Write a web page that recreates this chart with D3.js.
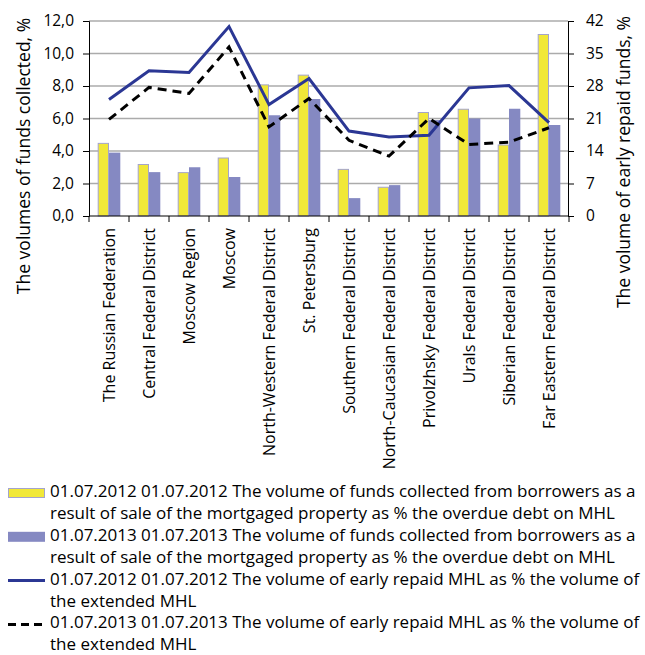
<!DOCTYPE html>
<html>
<head>
<meta charset="utf-8">
<script src="https://cdn.jsdelivr.net/npm/d3@7/dist/d3.min.js"></script>
<style>
  html, body { margin: 0; padding: 0; background: #fff; }
  svg { display: block; font-family: "Open Sans", sans-serif; }
</style>
</head>
<body>
<svg id="chart" width="645" height="655"></svg>
<script>
const categories = [
  "The Russian Federation", "Central Federal District", "Moscow Region", "Moscow",
  "North-Western Federal District", "St. Petersburg", "Southern Federal District",
  "North-Caucasian Federal District", "Privolzhsky Federal District",
  "Urals Federal District", "Siberian Federal District", "Far Eastern Federal District"
];
const funds2012 = [4.5, 3.2, 2.7, 3.6, 8.1, 8.7, 2.9, 1.8, 6.4, 6.6, 4.4, 11.2];
const funds2013 = [3.9, 2.7, 3.0, 2.4, 6.2, 7.2, 1.1, 1.9, 5.9, 6.0, 6.6, 5.6];
const early2012 = [25.1, 31.3, 30.9, 40.8, 24.0, 29.6, 18.3, 17.0, 17.4, 27.6, 28.1, 20.1];
const early2013 = [20.8, 27.7, 26.4, 36.4, 19.2, 25.3, 16.3, 12.9, 21.0, 15.4, 15.9, 19.0];
const leftTicks = [0, 2, 4, 6, 8, 10, 12];
const rightTicks = [0, 7, 14, 21, 28, 35, 42];
const leftTitle = "The volumes of funds collected, %";
const rightTitle = "The volume of early repaid funds, %";
const legendItems = [
  {type: "bar2012", lines: ["01.07.2012 01.07.2012 The volume of funds collected from borrowers as a", "result of sale of the mortgaged property as % the overdue debt on MHL"]},
  {type: "bar2013", lines: ["01.07.2013 01.07.2013 The volume of funds collected from borrowers as a", "result of sale of the mortgaged property as % the overdue debt on MHL"]},
  {type: "line2012", lines: ["01.07.2012 01.07.2012 The volume of early repaid MHL as % the volume of", "the extended MHL"]},
  {type: "line2013", lines: ["01.07.2013 01.07.2013 The volume of early repaid MHL as % the volume of", "the extended MHL"]}
];

const yellow = "#F1E838", purple = "#8589C2", blue = "#2B3794";
const L = 89, R = 569, T = 21, B = 216;
const svg = d3.select("#chart");

const x = d3.scaleBand().domain(categories).range([L, R]).padding(0);
const x1 = d3.scaleBand().domain(["a", "b"]).range([0, x.bandwidth()]).paddingInner(0).paddingOuter(0.77);
const yL = d3.scaleLinear().domain([0, 12]).range([B, T]);
const yR = d3.scaleLinear().domain([0, 42]).range([B, T]);

// gridlines
svg.append("g").selectAll("line").data(leftTicks.slice(1)).join("line")
  .attr("x1", L).attr("x2", R - 1).attr("y1", d => yL(d)).attr("y2", d => yL(d))
  .attr("stroke", "#ABABAB").attr("stroke-width", 1.5);

// bars
const g = svg.append("g");
g.selectAll(".b12").data(funds2012).join("rect")
  .attr("x", (d, i) => x(categories[i]) + x1("a") + 0.5)
  .attr("y", d => yL(d) + 0.5)
  .attr("width", x1.bandwidth() - 1)
  .attr("height", d => B - yL(d) - 0.5)
  .attr("fill", yellow).attr("stroke", "#A4A4CC").attr("stroke-width", 1);
g.selectAll(".b13").data(funds2013).join("rect")
  .attr("x", (d, i) => x(categories[i]) + x1("b"))
  .attr("y", d => yL(d))
  .attr("width", x1.bandwidth())
  .attr("height", d => B - yL(d))
  .attr("fill", purple);

// lines
const cx = i => x(categories[i]) + x.bandwidth() / 2;
const line = d3.line().x((d, i) => cx(i)).y(d => yR(d));
svg.append("path").datum(early2012).attr("d", line)
  .attr("fill", "none").attr("stroke", blue).attr("stroke-width", 3);
svg.append("path").datum(early2013).attr("d", line)
  .attr("fill", "none").attr("stroke", "#000").attr("stroke-width", 3)
  .attr("stroke-dasharray", "9,6");

// axes
const axL = svg.append("g").attr("transform", `translate(${L},0)`)
  .call(d3.axisLeft(yL).tickValues(leftTicks).tickFormat(d => d3.format(".1f")(d).replace(".", ",")).tickSizeOuter(0).tickSize(6).tickPadding(9));
const axR = svg.append("g").attr("transform", `translate(${R - 1},0)`)
  .call(d3.axisRight(yR).tickValues(rightTicks).tickSizeOuter(0).tickSize(6).tickPadding(12));
[axL, axR].forEach(a => {
  a.selectAll("text").attr("font-size", 15.5).attr("fill", "#000").attr("font-family", "'Open Sans', sans-serif");
  a.selectAll("line, path").attr("stroke", "#000");
});

// bottom axis with ticks at band edges
const axB = svg.append("g");
axB.append("line").attr("x1", L).attr("x2", R).attr("y1", B).attr("y2", B).attr("stroke", "#000");
axB.selectAll(".tk").data(categories.concat([null])).join("line")
  .attr("x1", (d, i) => i < categories.length ? x(d) : R).attr("x2", (d, i) => i < categories.length ? x(d) : R)
  .attr("y1", B).attr("y2", B + 6).attr("stroke", "#000");
axB.selectAll("text").data(categories).join("text")
  .attr("transform", d => `translate(${x(d) + x.bandwidth() / 2 + 5.5},${B + 12}) rotate(-90)`)
  .attr("text-anchor", "end").attr("font-size", 16).text(d => d);

// axis titles
svg.append("text").attr("transform", `translate(30,156) rotate(-90)`)
  .attr("text-anchor", "middle").attr("font-size", 17.5).text(leftTitle);
svg.append("text").attr("transform", `translate(630,162) rotate(-90)`)
  .attr("text-anchor", "middle").attr("font-size", 17.5).text(rightTitle);

// legend
const lg = svg.append("g");
const rowH = 21.9, base0 = 497;
legendItems.forEach((it, k) => {
  const yb = base0 + k * 2 * rowH;
  const yc = yb - 4;
  if (it.type === "bar2012") {
    lg.append("rect").attr("x", 8.5).attr("y", yc - 4.5).attr("width", 36).attr("height", 9)
      .attr("fill", yellow).attr("stroke", "#A4A4CC");
  } else if (it.type === "bar2013") {
    lg.append("rect").attr("x", 8).attr("y", yc - 5).attr("width", 37).attr("height", 10).attr("fill", purple);
  } else if (it.type === "line2012") {
    lg.append("line").attr("x1", 8).attr("x2", 45).attr("y1", yc).attr("y2", yc)
      .attr("stroke", blue).attr("stroke-width", 3);
  } else {
    lg.append("line").attr("x1", 8).attr("x2", 45).attr("y1", yc).attr("y2", yc)
      .attr("stroke", "#000").attr("stroke-width", 3).attr("stroke-dasharray", "8,5");
  }
  it.lines.forEach((t, j) => {
    lg.append("text").attr("x", 50).attr("y", yb + j * rowH).attr("font-size", 17).text(t);
  });
});
</script>
</body>
</html>
